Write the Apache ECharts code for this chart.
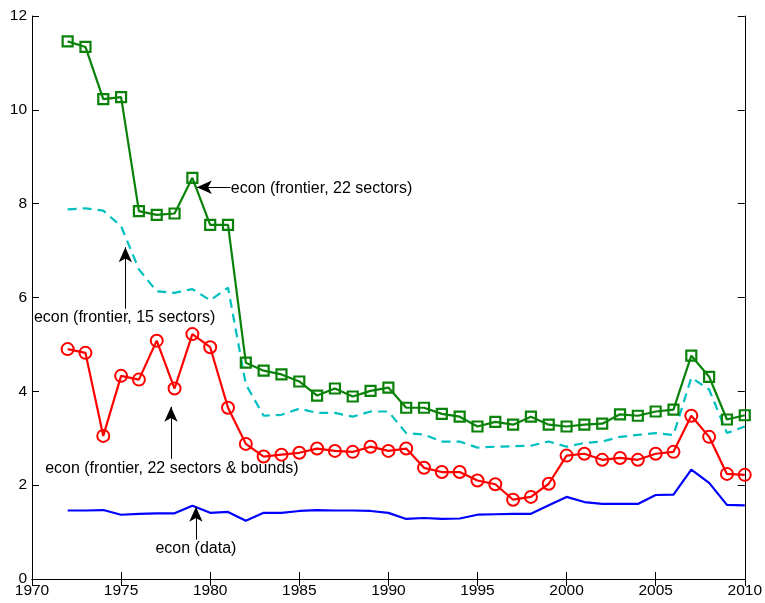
<!DOCTYPE html>
<html>
<head>
<meta charset="utf-8">
<script src="https://cdn.jsdelivr.net/npm/echarts@6/dist/echarts.min.js"></script>
<style>
html,body{margin:0;padding:0;background:#fff;}
#chart{width:765px;height:603px;}
</style>
</head>
<body>
<div id="chart"></div>
<script>
var years = [1972,1973,1974,1975,1976,1977,1978,1979,1980,1981,1982,1983,1984,1985,1986,1987,1988,1989,1990,1991,1992,1993,1994,1995,1996,1997,1998,1999,2000,2001,2002,2003,2004,2005,2006,2007,2008,2009,2010];

var frontier22 = [11.46,11.34,10.23,10.27,7.84,7.76,7.79,8.55,7.55,7.55,
  4.61,4.44,4.36,4.21,3.91,4.06,3.89,4.01,4.08,3.65,
  3.65,3.52,3.46,3.25,3.35,3.29,3.46,3.29,3.25,3.29,
  3.31,3.51,3.48,3.57,3.61,4.76,4.31,3.40,3.49];

var frontier15 = [7.88,7.90,7.85,7.52,6.60,6.13,6.10,6.18,5.94,6.21,
  4.15,3.48,3.50,3.63,3.54,3.54,3.46,3.57,3.57,3.11,
  3.08,2.93,2.93,2.80,2.82,2.83,2.84,2.93,2.82,2.90,
  2.93,3.03,3.07,3.11,3.07,4.29,4.04,3.11,3.25];

var frontierBounds = [4.90,4.82,3.05,4.33,4.25,5.08,4.06,5.22,4.94,3.65,
  2.88,2.61,2.65,2.69,2.78,2.73,2.71,2.82,2.73,2.78,
  2.37,2.28,2.28,2.10,2.02,1.69,1.75,2.03,2.63,2.67,
  2.54,2.58,2.54,2.67,2.71,3.48,3.03,2.24,2.22];

var econData = [1.46,1.46,1.47,1.37,1.39,1.40,1.40,1.56,1.41,1.43,
  1.24,1.41,1.41,1.45,1.47,1.46,1.46,1.45,1.41,1.28,
  1.30,1.28,1.29,1.37,1.38,1.39,1.39,1.57,1.75,1.64,
  1.60,1.60,1.60,1.79,1.80,2.33,2.05,1.58,1.57];

var xTicks = [1970,1975,1980,1985,1990,1995,2000,2005,2010];
var yTicks = [0,2,4,6,8,10,12];

// annotations
var annoTexts = ['econ (frontier, 22 sectors)','econ (frontier, 15 sectors)','econ (frontier, 22 sectors & bounds)','econ (data)'];
var annoTextPos = [[1981.1,8.33],[1975.2,5.58],[1977.85,2.35],[1979.2,0.64]];
var annoArrowFrom = [[1981.14,8.35],[1975.24,5.76],[1977.8,2.56],[1979.2,0.84]];
var annoArrowTo = [[1979.25,8.35],[1975.24,7.07],[1977.8,3.67],[1979.2,1.54]];
var annoAlign = ['right','inside','inside','inside'];

function pairs(vals){ return years.map(function(y,i){ return [y, vals[i]]; }); }

var FONT = '"Liberation Sans", Arial, Helvetica, sans-serif';
var chart = echarts.init(document.getElementById('chart'), null, {renderer:'canvas'});

var axisCommon = {
  type:'value',
  axisLine:{show:true, lineStyle:{color:'#000', width:1}},
  axisTick:{show:true, inside:true, length:7, lineStyle:{color:'#000'}},
  splitLine:{show:false},
  axisLabel:{color:'#000', fontSize:15.5, fontFamily:FONT}
};

var markLineData = annoArrowFrom.map(function(f,i){
  return [{coord:f}, {coord:annoArrowTo[i]}];
});
var markPointData = annoTexts.map(function(t,i){
  return {coord:annoTextPos[i], symbol:'circle', symbolSize:0,
    label:{show:true, formatter:t, position:annoAlign[i], distance:1, color:'#000', fontSize:16, fontFamily:FONT}};
});

chart.setOption({
  animation:false,
  backgroundColor:'#fff',
  grid:{left:32, right:19, top:16, bottom:24, containLabel:false},
  xAxis:[
    Object.assign({}, axisCommon, {min:1970, max:2010, interval:5, position:'bottom',
      axisLabel:Object.assign({}, axisCommon.axisLabel, {margin:4, formatter:function(v){return String(v);}, showMinLabel:true, showMaxLabel:true})}),
    Object.assign({}, axisCommon, {min:1970, max:2010, interval:5, position:'top', axisLabel:{show:false}})
  ],
  yAxis:[
    Object.assign({}, axisCommon, {min:0, max:12, interval:2, position:'left',
      axisLabel:Object.assign({}, axisCommon.axisLabel, {margin:5})}),
    Object.assign({}, axisCommon, {min:0, max:12, interval:2, position:'right', axisLabel:{show:false}})
  ],
  series:[
    {
      name:'econ (data)', type:'line', data:pairs(econData), showSymbol:false, symbol:'none',
      lineStyle:{color:'#0000ff', width:2.2}, itemStyle:{color:'#0000ff'}, z:2
    },
    {
      name:'econ (frontier, 22 sectors & bounds)', type:'line', data:pairs(frontierBounds),
      symbol:'circle', symbolSize:12, showSymbol:true,
      lineStyle:{color:'#ff0000', width:2.2},
      itemStyle:{color:'transparent', borderColor:'#ff0000', borderWidth:2}, z:3
    },
    {
      name:'econ (frontier, 15 sectors)', type:'line', data:pairs(frontier15), showSymbol:false, symbol:'none',
      lineStyle:{color:'#00bfbf', width:2.2, type:[9,6]}, itemStyle:{color:'#00bfbf'}, z:3
    },
    {
      name:'econ (frontier, 22 sectors)', type:'line', data:pairs(frontier22),
      symbol:'rect', symbolSize:10, showSymbol:true,
      lineStyle:{color:'#0a820a', width:2.2},
      itemStyle:{color:'transparent', borderColor:'#0a820a', borderWidth:2.2}, z:4,
      markLine:{
        silent:true, symbol:['none','arrow'], symbolSize:[10,15],
        lineStyle:{color:'#000', width:1, type:'solid'},
        label:{show:false},
        itemStyle:{color:'#000'},
        data:markLineData
      },
      markPoint:{silent:true, data:markPointData}
    }
  ]
});
</script>
</body>
</html>
